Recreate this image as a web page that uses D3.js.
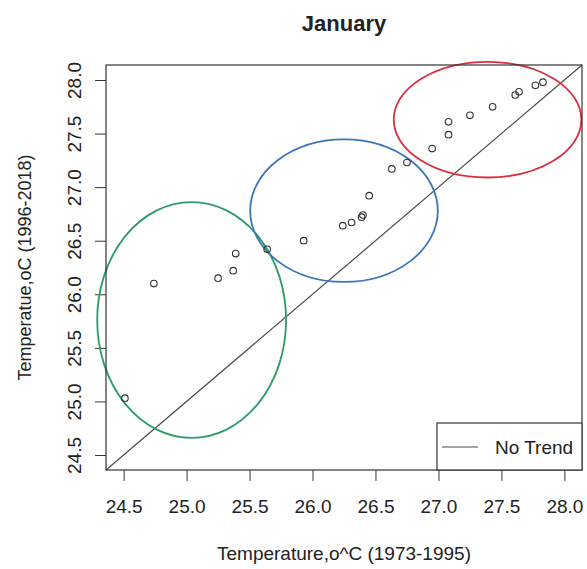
<!DOCTYPE html>
<html>
<head>
<meta charset="utf-8">
<script src="https://cdn.jsdelivr.net/npm/d3@7"></script>
<style>
  html, body { margin: 0; padding: 0; background: #ffffff; }
  svg text { font-family: "Liberation Sans", Arial, sans-serif; fill: #222; }
</style>
</head>
<body>
<svg id="chart" width="587" height="569"></svg>
<script>
// January mean temperature: 1973-1995 (x) against 1996-2018 (y), °C
const tempEarly = [24.51, 24.74, 25.25, 25.37, 25.39, 25.64, 25.93, 26.24, 26.31, 26.39, 26.40, 26.45,
                   26.63, 26.75, 26.95, 27.08, 27.08, 27.25, 27.43, 27.61, 27.64, 27.77, 27.83];
const tempLate  = [25.03, 26.10, 26.15, 26.22, 26.38, 26.42, 26.50, 26.64, 26.67, 26.72, 26.74, 26.92,
                   27.17, 27.23, 27.36, 27.49, 27.61, 27.67, 27.75, 27.86, 27.89, 27.95, 27.98];

const xTicks = [24.5, 25.0, 25.5, 26.0, 26.5, 27.0, 27.5, 28.0];
const yTicks = [24.5, 25.0, 25.5, 26.0, 26.5, 27.0, 27.5, 28.0];

// Highlighted groups (centre and semi-axes, in °C)
const groupCentreX = [25.04, 26.25, 27.39];
const groupCentreY = [25.76, 26.78, 27.63];
const groupRadiusX = [0.75, 0.745, 0.745];
const groupRadiusY = [1.10, 0.665, 0.54];

const titleText = "January";
const xTitle = "Temperature,o^C (1973-1995)";
const yTitle = "Temperatue,oC (1996-2018)";
const legendLabel = "No Trend";

// ---- layout & style ----
const groupColours = ["#2b9c68", "#3a76b8", "#d8303f"];
const ink = "#333";
const limits = [24.36, 28.14];
const box = { left: 106, right: 582, top: 65, bottom: 470 };

const svg = d3.select("#chart");
svg.append("rect").attr("width", 587).attr("height", 569).attr("fill", "#fff");

const x = d3.scaleLinear().domain(limits).range([box.left, box.right]);
const y = d3.scaleLinear().domain(limits).range([box.bottom, box.top]);

// x axis
const gx = svg.append("g")
  .attr("transform", `translate(0,${box.bottom})`)
  .call(d3.axisBottom(x).tickValues(xTicks).tickFormat(d3.format(".1f"))
        .tickSize(11).tickPadding(19));
gx.select(".domain").remove();
gx.selectAll(".tick line").attr("stroke", ink);
gx.selectAll(".tick text").attr("font-size", 19).attr("fill", "#222");

// y axis, labels parallel to the axis
const gy = svg.append("g")
  .attr("transform", `translate(${box.left},0)`)
  .call(d3.axisLeft(y).tickValues(yTicks).tickFormat(d3.format(".1f")).tickSize(11));
gy.select(".domain").remove();
gy.selectAll(".tick line").attr("stroke", ink);
gy.selectAll(".tick text")
  .attr("font-size", 19).attr("fill", "#222")
  .attr("transform", "rotate(-90)")
  .attr("x", 0).attr("y", -25).attr("dy", 0)
  .attr("text-anchor", "middle");

// 1:1 reference line
const line = d3.line().x(d => x(d)).y(d => y(d));
svg.append("path")
  .attr("d", line(limits))
  .attr("fill", "none").attr("stroke", "#4a4a4a").attr("stroke-width", 1.2);

// group ellipses
svg.append("g").selectAll("ellipse")
  .data(d3.range(groupCentreX.length))
  .join("ellipse")
  .attr("cx", i => x(groupCentreX[i]))
  .attr("cy", i => y(groupCentreY[i]))
  .attr("rx", i => x(groupCentreX[i] + groupRadiusX[i]) - x(groupCentreX[i]))
  .attr("ry", i => y(groupCentreY[i] - groupRadiusY[i]) - y(groupCentreY[i]))
  .attr("fill", "none")
  .attr("stroke", i => groupColours[i])
  .attr("stroke-width", 1.8);

// points
svg.append("g").selectAll("circle")
  .data(d3.range(tempEarly.length))
  .join("circle")
  .attr("cx", i => x(tempEarly[i]))
  .attr("cy", i => y(tempLate[i]))
  .attr("r", 3.3)
  .attr("fill", "none")
  .attr("stroke", ink)
  .attr("stroke-width", 1.1);

// plot frame
svg.append("rect")
  .attr("x", box.left).attr("y", box.top)
  .attr("width", box.right - box.left).attr("height", box.bottom - box.top)
  .attr("fill", "none").attr("stroke", ink).attr("stroke-width", 1.2);

// legend (bottom right)
const lg = svg.append("g").attr("transform", `translate(${box.right - 145},${box.bottom - 47})`);
lg.append("rect").attr("width", 145).attr("height", 47)
  .attr("fill", "#fff").attr("stroke", ink).attr("stroke-width", 1.2);
lg.append("line").attr("x1", 5).attr("x2", 41).attr("y1", 24).attr("y2", 24)
  .attr("stroke", "#4a4a4a").attr("stroke-width", 1.2);
lg.append("text").attr("x", 58).attr("y", 31).attr("font-size", 19).text(legendLabel);

// titles
svg.append("text").attr("x", (box.left + box.right) / 2).attr("y", 31)
  .attr("text-anchor", "middle").attr("font-size", 22).attr("font-weight", "bold")
  .attr("fill", "#111").text(titleText);
svg.append("text").attr("x", (box.left + box.right) / 2).attr("y", 560)
  .attr("text-anchor", "middle").attr("font-size", 19).text(xTitle);
svg.append("text")
  .attr("transform", `translate(31,${(box.top + box.bottom) / 2}) rotate(-90)`)
  .attr("text-anchor", "middle").attr("font-size", 18).text(yTitle);
</script>
</body>
</html>
